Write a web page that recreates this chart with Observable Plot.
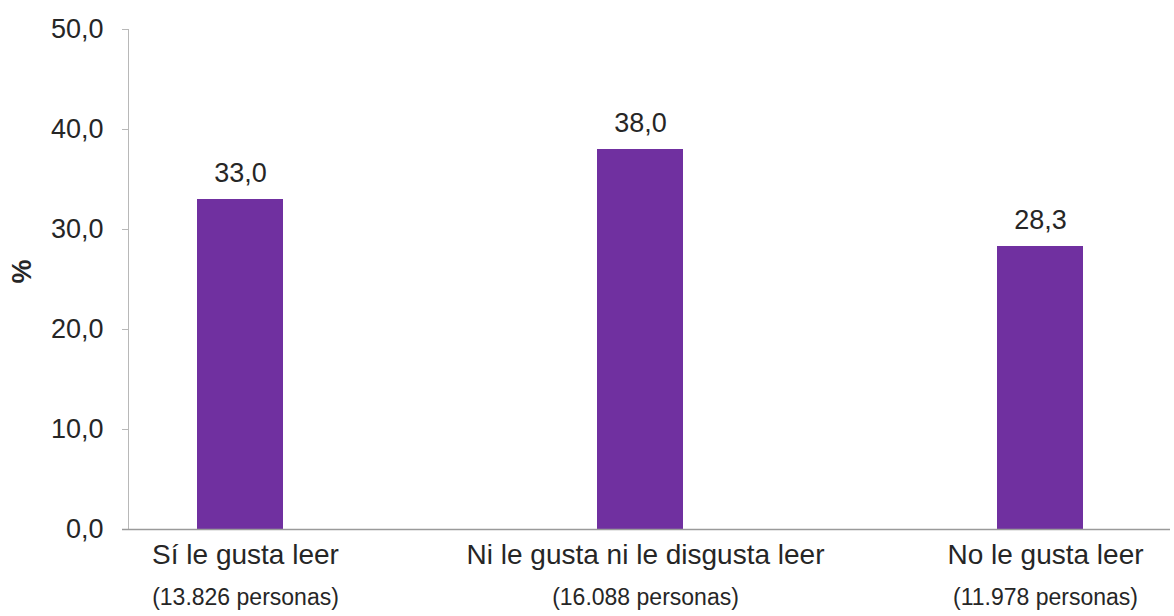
<!DOCTYPE html>
<html>
<head>
<meta charset="utf-8">
<script src="https://cdn.jsdelivr.net/npm/d3@7"></script>
<script src="https://cdn.jsdelivr.net/npm/@observablehq/plot@0.6"></script>
<style>
  html, body { margin: 0; padding: 0; background: #fff; }
  #chart { width: 1174px; height: 616px; }
</style>
</head>
<body>
<div id="chart"></div>
<script>
const categories = ["Sí le gusta leer", "Ni le gusta ni le disgusta leer", "No le gusta leer"];
const personas = ["(13.826 personas)", "(16.088 personas)", "(11.978 personas)"];
const values = [33.0, 38.0, 28.3];
const yTicks = [0, 10, 20, 30, 40, 50];

const data = categories.map((c, i) => ({cat: c, sub: personas[i], value: values[i]}));
const fmt = d => d.toFixed(1).replace(".", ",");
const FONT = "'Liberation Sans', Arial, sans-serif";

const chart = Plot.plot({
  width: 1174,
  height: 616,
  marginTop: 29,
  marginBottom: 87,
  marginLeft: 128,
  marginRight: 4,
  style: {fontFamily: FONT, background: "#fff", color: "#262626", overflow: "visible"},
  x: {type: "band", domain: categories, range: [128, 1152], paddingInner: 0.7855, paddingOuter: 0.17, axis: null},
  y: {domain: [0, 50], ticks: yTicks, tickFormat: fmt, label: null},
  marks: [
    Plot.frame({anchor: "left", stroke: "#b8b8b8"}),
    Plot.axisY({ticks: yTicks, tickFormat: fmt, tickSize: 6, tickPadding: 19, stroke: "#b8b8b8", fontSize: 27, fill: "#262626", label: null}),
    Plot.barY(data, {x: "cat", y: "value", fill: "#7030A0"}),
    Plot.ruleY([0], {stroke: "#9a9a9a", strokeWidth: 1.5, insetLeft: -6}),
    Plot.text(data, {x: "cat", y: "value", text: d => fmt(d.value), dy: -26, fontSize: 27, fill: "#262626"}),
    Plot.text(data, {x: "cat", frameAnchor: "bottom", text: "cat", dy: 34, dx: 5, fontSize: 28, fill: "#262626"}),
    Plot.text(data, {x: "cat", frameAnchor: "bottom", text: "sub", dy: 75, dx: 5, fontSize: 23, fill: "#262626"}),
    Plot.text(["%"], {frameAnchor: "left", dx: -106, dy: 4, rotate: -90, fontSize: 27, fontWeight: "bold", fill: "#262626"})
  ]
});
document.getElementById("chart").appendChild(chart);
</script>
</body>
</html>
